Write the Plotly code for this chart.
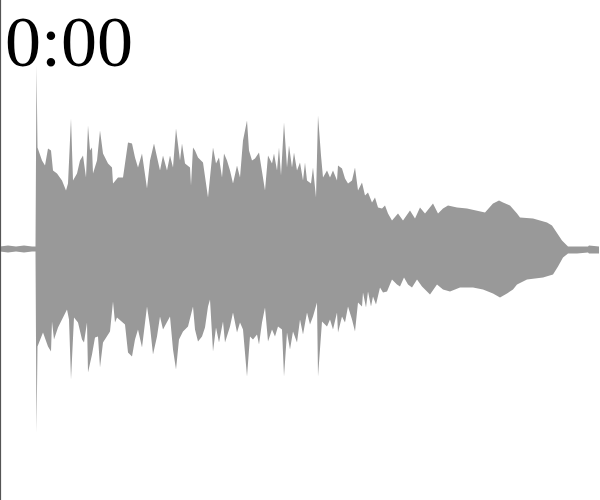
import plotly.graph_objects as go

# Waveform peak envelope (frame index, amplitude)
upper_t = [0, 8, 16, 24, 32, 35.5, 36.5, 37.5, 42, 45, 48, 51, 53, 57, 62, 66, 68, 71, 73, 77, 80, 83, 86, 88, 90, 92, 93, 97, 100, 103, 108, 112, 113, 118, 123, 128, 132, 135, 138, 142, 147, 150, 154, 157, 160, 163, 167, 170, 173, 176, 180, 182, 185, 190, 191, 193, 195, 198, 203, 208, 213, 216, 219, 222, 224, 227, 230, 233, 237, 240, 243, 247, 249, 252, 255, 259, 262, 265, 268, 272, 274, 277, 279, 281, 284, 287, 289, 292, 294, 297, 300, 303, 305, 307, 311, 313, 316, 318, 321, 323, 327, 330, 333, 337, 338, 342, 345, 348, 352, 355, 358, 362, 365, 368, 372, 375, 378, 382, 385, 388, 392, 398, 403, 410, 415, 420, 425, 433, 438, 443, 448, 457, 467, 477, 485, 493, 499, 503, 510, 517, 520, 533, 547, 552, 557, 562, 567, 568, 577, 588, 589, 599]
upper_a = [3, 4, 3, 4, 3, 3, 184, 102, 89, 84, 101, 99, 79, 76, 69, 59, 66, 131, 69, 76, 89, 94, 72, 124, 99, 102, 76, 89, 119, 96, 86, 82, 66, 72, 72, 107, 106, 92, 82, 96, 61, 89, 106, 92, 79, 94, 79, 94, 82, 121, 89, 106, 86, 82, 64, 102, 99, 92, 87, 52, 102, 86, 92, 72, 96, 89, 79, 66, 84, 72, 109, 129, 99, 89, 91, 97, 76, 59, 94, 86, 96, 79, 102, 74, 127, 82, 104, 82, 97, 79, 87, 69, 87, 69, 66, 82, 52, 134, 94, 72, 79, 72, 79, 69, 84, 81, 71, 66, 69, 82, 59, 67, 54, 57, 47, 52, 42, 41, 44, 36, 29, 36, 29, 39, 31, 42, 36, 46, 36, 41, 44, 42, 41, 39, 37, 46, 49, 47, 44, 36, 32, 31, 27, 24, 16, 9, 4, 3, 3, 3, 4, 3]

lower_t = [0, 8, 16, 24, 32, 35.5, 36.5, 37.5, 43, 48, 51, 52, 54, 58, 63, 67, 69, 71, 74, 78, 82, 84, 87, 88, 92, 95, 98, 100, 103, 107, 110, 113, 115, 117, 122, 125, 128, 132, 135, 138, 142, 147, 150, 153, 157, 160, 163, 167, 170, 173, 176, 179, 183, 188, 193, 195, 198, 202, 205, 208, 210, 213, 216, 219, 223, 225, 230, 233, 237, 240, 243, 247, 250, 253, 257, 259, 262, 265, 268, 272, 275, 278, 282, 284, 287, 290, 293, 297, 300, 303, 307, 310, 313, 317, 318, 322, 327, 330, 333, 337, 338, 342, 345, 348, 352, 355, 358, 362, 363, 366, 368, 371, 373, 376, 380, 383, 387, 392, 397, 400, 404, 408, 412, 417, 422, 430, 437, 443, 450, 460, 473, 483, 493, 500, 507, 513, 517, 527, 543, 553, 558, 563, 568, 577, 588, 589, 599]
lower_a = [2, 3, 2, 3, 2, 2, 183, 97, 83, 97, 102, 72, 90, 78, 68, 60, 70, 130, 68, 73, 90, 93, 73, 123, 105, 88, 87, 118, 93, 87, 82, 52, 73, 68, 72, 75, 103, 107, 90, 80, 98, 57, 77, 105, 87, 67, 80, 73, 67, 100, 120, 90, 82, 77, 57, 80, 92, 87, 78, 57, 50, 102, 78, 93, 72, 93, 77, 63, 83, 73, 80, 127, 87, 90, 85, 95, 73, 58, 92, 80, 87, 77, 80, 127, 83, 100, 82, 93, 70, 85, 63, 75, 67, 53, 127, 72, 77, 70, 80, 63, 83, 67, 73, 57, 70, 82, 53, 57, 43, 58, 42, 57, 47, 55, 38, 43, 42, 30, 35, 37, 28, 35, 38, 30, 37, 45, 35, 40, 42, 38, 38, 40, 44, 48, 44, 40, 35, 30, 28, 25, 17, 8, 4, 4, 3, 4, 4]

time_label = "0:00"

xs = upper_t + lower_t[::-1]
ys = upper_a + [-v for v in lower_a[::-1]]

fig = go.Figure()
fig.add_trace(go.Scatter(
    x=xs, y=ys, mode="lines", fill="toself",
    fillcolor="#999999", line=dict(width=0, color="#999999"),
    hoverinfo="skip", showlegend=False,
))

fig.add_shape(type="line", xref="x", yref="paper", x0=0.5, x1=0.5, y0=0, y1=1,
              line=dict(color="#555555", width=1.2))

fig.add_annotation(
    text=time_label, xref="paper", yref="paper", x=0, y=1,
    xanchor="left", yanchor="top", showarrow=False,
    xshift=3, yshift=0,
    font=dict(family="Liberation Serif", size=72, color="#000000"),
)

fig.update_layout(
    width=600, height=500,
    margin=dict(l=0, r=0, t=0, b=0),
    paper_bgcolor="white", plot_bgcolor="white",
    xaxis=dict(range=[0, 600], visible=False, fixedrange=True),
    yaxis=dict(range=[-250.5, 249.5], visible=False, fixedrange=True),
)

fig.write_html("out.html")
